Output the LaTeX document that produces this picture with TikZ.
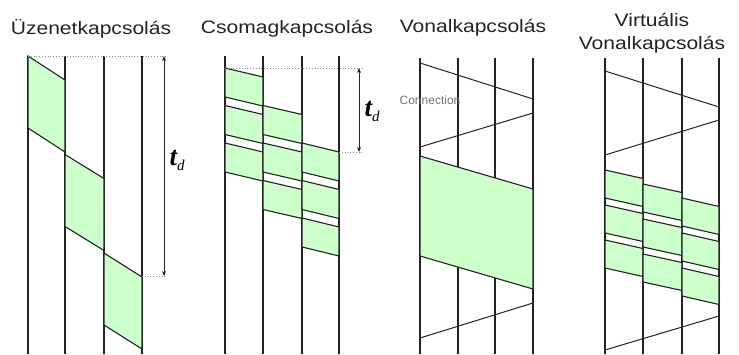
\documentclass[tikz,border=0pt]{standalone}
\usepackage{fontspec}
\setmainfont{Liberation Sans}
\newfontfamily\timesfont{Liberation Serif}
\usetikzlibrary{arrows.meta}
\definecolor{pktgreen}{RGB}{204,255,204}
\definecolor{inkgray}{RGB}{35,35,35}
\tikzset{
	title/.style = {font = \fontsize{18}{23}\selectfont, xscale = 1.17, text = inkgray, align = center},
	conn/.style = {font = \fontsize{12}{14}\selectfont, text = black!55},
	wire/.style = {line width = 1.1pt, draw = inkgray},
	signal/.style = {line width = 1pt, draw = inkgray},
	packet/.style = {line width = 1.1pt, draw = inkgray, fill = pktgreen},
	guide/.style = {dotted, line width = 0.8pt, draw = black!45},
	delay/.style = {{Stealth[length = 5pt, width = 4pt]}-{Stealth[length = 5pt, width = 4pt]}, line width = 0.8pt, draw = inkgray}
}
\newcommand{\tdlabel}{{\timesfont\fontsize{27}{27}\selectfont\bfseries\itshape t}{\timesfont\fontsize{15}{15}\selectfont\itshape\raisebox{-5pt}{d}}}
\begin{document}
\begin{tikzpicture} [x = 1pt, y = -1pt]
	\useasboundingbox (0,0) rectangle (739,354);
	% titles
	\draw (91,29) node [title] (uzenet) {Üzenetkapcsolás};
	\draw (287,29) node [title] (csomag) {Csomagkapcsolás};
	\draw (473,28) node [title] (vonal) {Vonalkapcsolás};
	\draw (652,33) node [title] (virtualis) {Virtuális\\Vonalkapcsolás};
	% time lines
	\foreach \x in {28,65,104,142} \draw [wire] (\x,56) -- (\x,354);
	\foreach \x in {225,263,302,339} \draw [wire] (\x,56) -- (\x,354);
	\foreach \x in {420,458,495,533} \draw [wire] (\x,58) -- (\x,354);
	\foreach \x in {605,643,682,719} \draw [wire] (\x,58) -- (\x,354);
	% message switching
	\foreach \k/\xa/\xb in {0/28/65, 1/65/104, 2/104/142}
		\draw [packet] (\xa,{56+98.5*\k}) -- (\xb,{80+98.5*\k}) -- (\xb,{152+98.5*\k}) -- (\xa,{128+98.5*\k}) -- cycle;
	\coordinate (tdtopA) at (164,56);
	\coordinate (tdbotA) at (164,276);
	\draw [guide] (28,56) -- (167,56);
	\draw [guide] (142,276) -- (167,276);
	\draw [delay] (tdtopA) -- (tdbotA);
	\draw (177,160) node (tdA) {\tdlabel};
	% packet switching
	\foreach \k/\xa/\xb in {0/225/263, 1/263/302, 2/302/339}
		\foreach \j in {0,1,2}
			\draw [packet] (\xa,{68+37.5*(\k+\j)}) -- (\xb,{77+37.5*(\k+\j)}) -- (\xb,{106+37.5*(\k+\j)}) -- (\xa,{97+37.5*(\k+\j)}) -- cycle;
	\coordinate (tdtopB) at (359,68);
	\coordinate (tdbotB) at (359,152);
	\draw [guide] (225,68) -- (363,68);
	\draw [guide] (339,152) -- (363,152);
	\draw [delay] (tdtopB) -- (tdbotB);
	\draw (372,111) node (tdB) {\tdlabel};
	% circuit switching
	\draw [signal] (420,63) -- (533,99);
	\draw [signal] (533,113) -- (420,147);
	\draw [packet] (420,156) -- (533,189) -- (533,289) -- (420,256) -- cycle;
	\draw [signal] (533,303) -- (420,338);
	\draw (430,100) node [conn] (connlabel) {Connection};
	% virtual circuit switching
	\draw [signal] (605,71) -- (719,107);
	\draw [signal] (719,120) -- (605,155);
	\foreach \k/\xa/\xb in {0/605/643, 1/643/682, 2/682/719}
		\foreach \j in {0,1,2}
			\draw [packet] (\xa,{170+14*\k+35*\j}) -- (\xb,{178.5+14*\k+35*\j}) -- (\xb,{206.5+14*\k+35*\j}) -- (\xa,{198+14*\k+35*\j}) -- cycle;
	\draw [signal] (719,316) -- (605,350);
\end{tikzpicture}
\end{document}
